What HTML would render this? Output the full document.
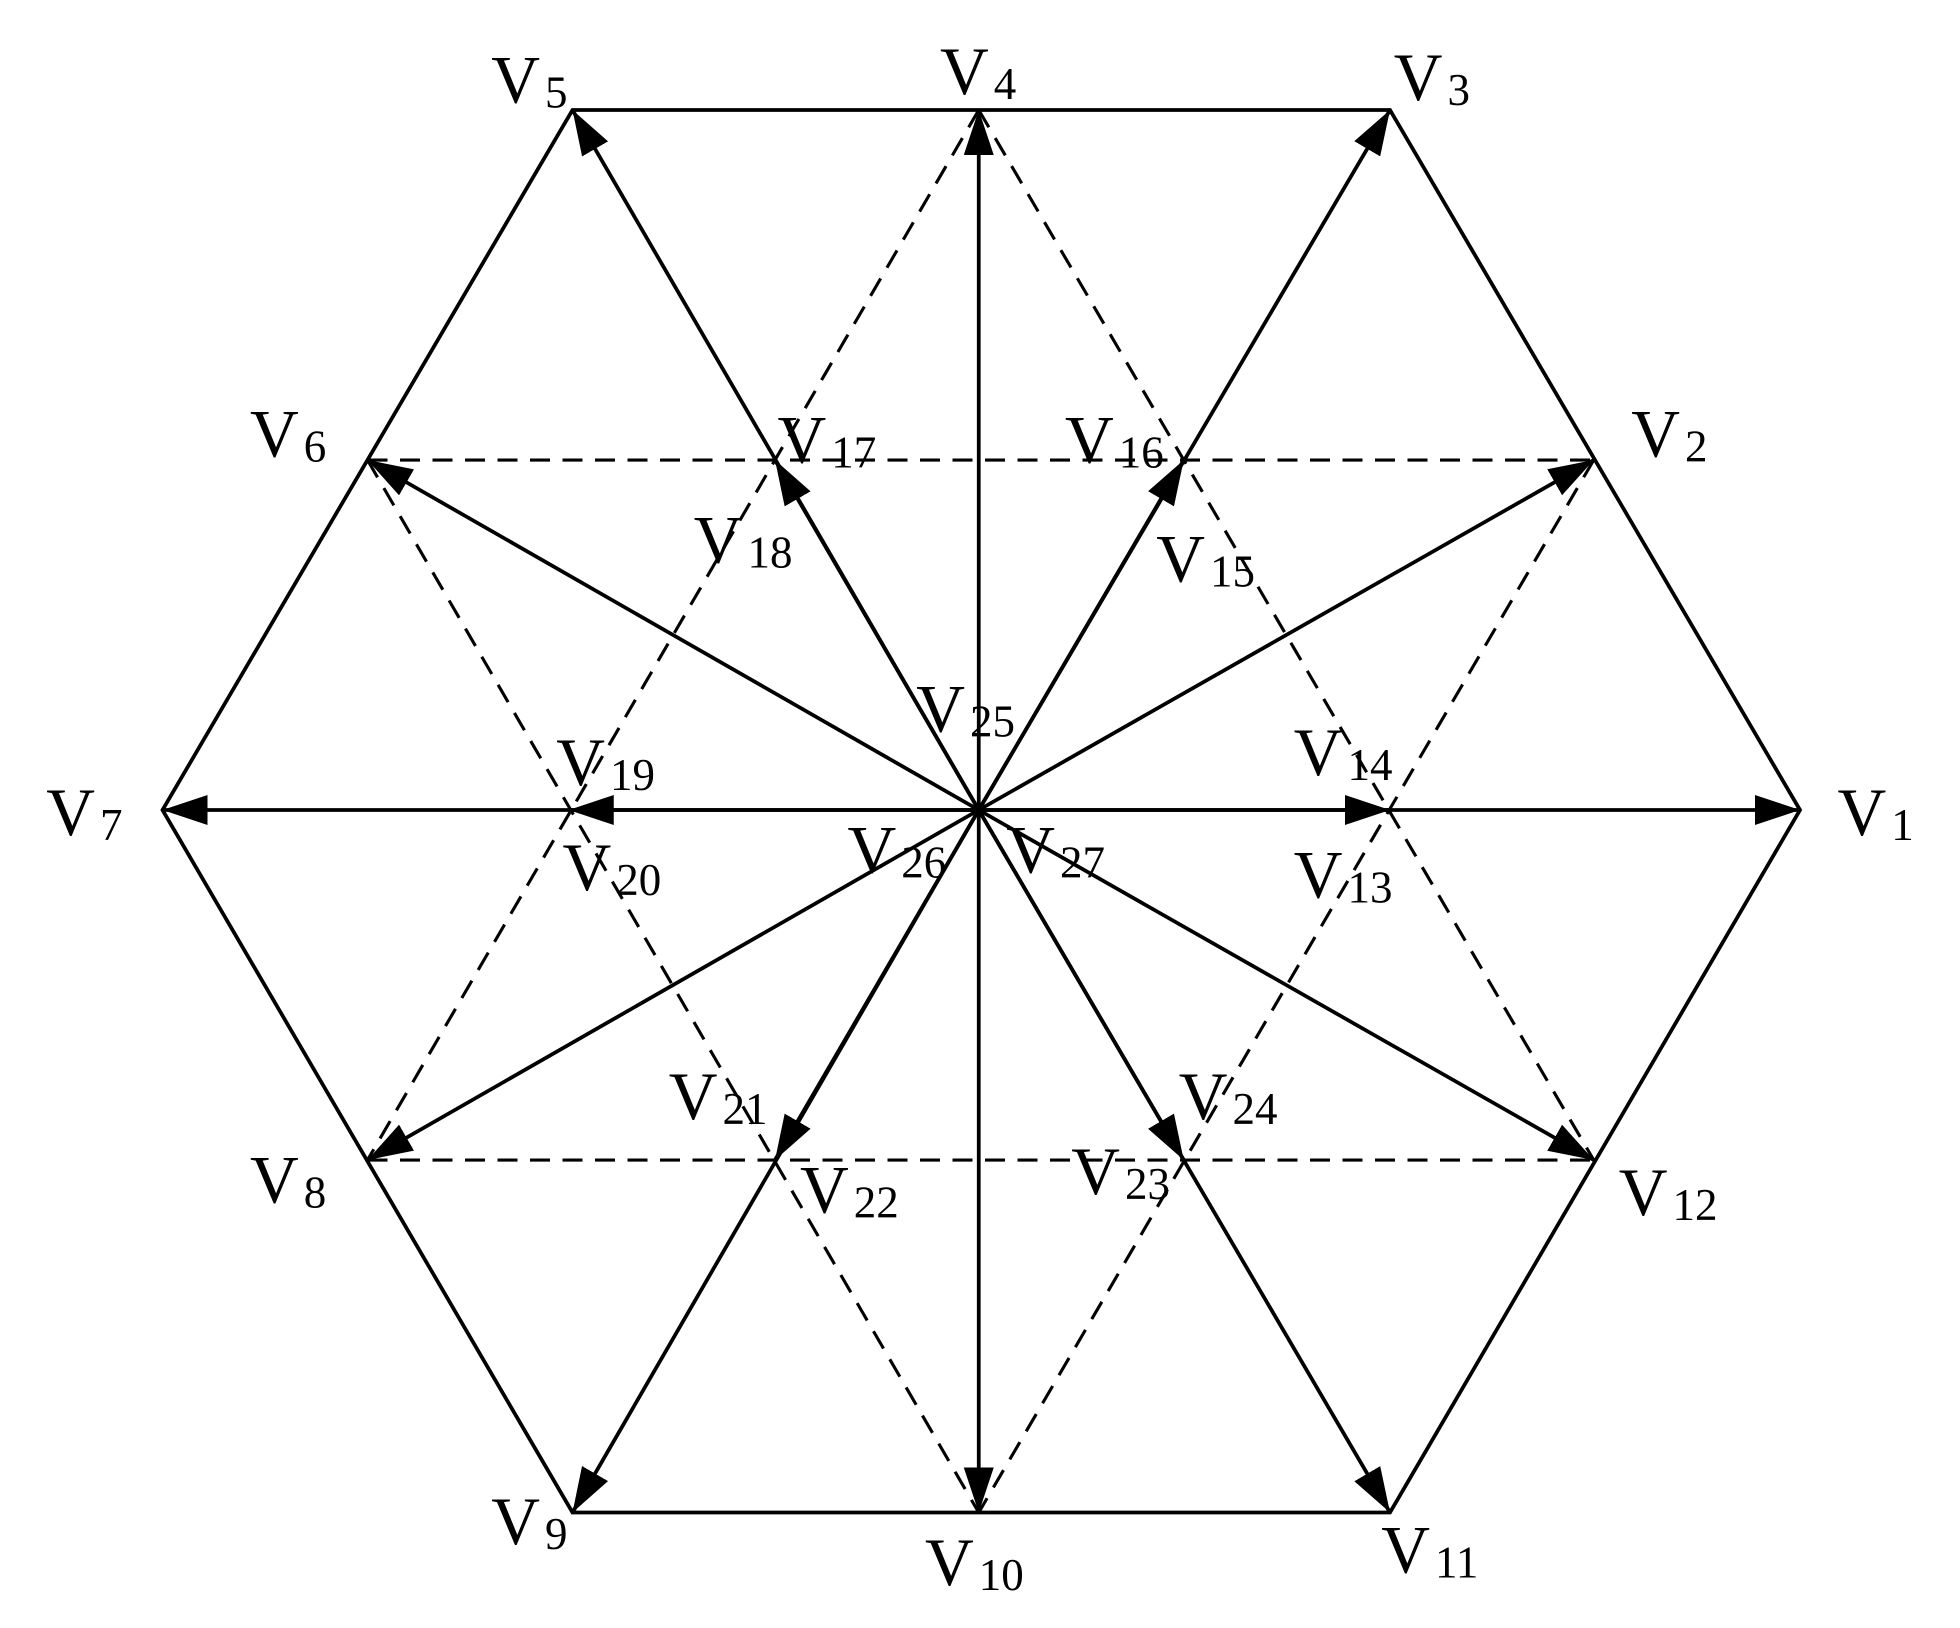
<!DOCTYPE html>
<html><head><meta charset="utf-8"><style>html,body{margin:0;padding:0;background:#fff}svg{display:block}</style></head><body>
<svg width="1960" height="1628" viewBox="0 0 1568 1302.4" xmlns="http://www.w3.org/2000/svg">
<defs>
<marker id="a" markerWidth="40" markerHeight="26" refX="36" refY="12" orient="auto" markerUnits="userSpaceOnUse">
<path d="M0,0 L36,12 L0,24 Z" fill="#000"/>
</marker>
</defs>
<g stroke="#000" stroke-width="3" fill="none">
<polygon points="1440,648 1112,88 458,88 130,648 458,1210 1112,1210"/>
<g stroke-dasharray="16,10" stroke-width="2.5">
<line x1="294" y1="368" x2="1275" y2="368"/>
<line x1="294" y1="928" x2="1275" y2="928"/>
<line x1="783" y1="88" x2="1275" y2="928"/>
<line x1="783" y1="88" x2="294" y2="928"/>
<line x1="1275" y1="368" x2="783" y2="1210"/>
<line x1="294" y1="368" x2="783" y2="1210"/>
</g>
<line x1="783" y1="648" x2="1440" y2="648" marker-end="url(#a)"/>
<line x1="783" y1="648" x2="1275" y2="368" marker-end="url(#a)"/>
<line x1="783" y1="648" x2="783" y2="88" marker-end="url(#a)"/>
<line x1="783" y1="648" x2="294" y2="368" marker-end="url(#a)"/>
<line x1="783" y1="648" x2="130" y2="648" marker-end="url(#a)"/>
<line x1="783" y1="648" x2="294" y2="928" marker-end="url(#a)"/>
<line x1="783" y1="648" x2="783" y2="1210" marker-end="url(#a)"/>
<line x1="783" y1="648" x2="1275" y2="928" marker-end="url(#a)"/>
<line x1="783" y1="648" x2="1112" y2="88" marker-end="url(#a)"/>
<line x1="783" y1="648" x2="458" y2="88" marker-end="url(#a)"/>
<line x1="783" y1="648" x2="458" y2="1210" marker-end="url(#a)"/>
<line x1="783" y1="648" x2="1112" y2="1210" marker-end="url(#a)"/>
<line x1="783" y1="648" x2="1112" y2="648" marker-end="url(#a)"/>
<line x1="783" y1="648" x2="947" y2="368" marker-end="url(#a)"/>
<line x1="783" y1="648" x2="620" y2="368" marker-end="url(#a)"/>
<line x1="783" y1="648" x2="455" y2="648" marker-end="url(#a)"/>
<line x1="783" y1="648" x2="620" y2="928" marker-end="url(#a)"/>
<line x1="783" y1="648" x2="947" y2="928" marker-end="url(#a)"/>
</g>
<g font-family="Liberation Serif, serif" font-size="54" fill="#000">
<text x="393" y="82">V<tspan font-size="36" dx="4" dy="4">5</tspan></text>
<text x="752" y="75">V<tspan font-size="36" dx="4" dy="4">4</tspan></text>
<text x="1115" y="80">V<tspan font-size="36" dx="4" dy="4">3</tspan></text>
<text x="200" y="365">V<tspan font-size="36" dx="4" dy="4">6</tspan></text>
<text x="1305" y="365">V<tspan font-size="36" dx="4" dy="4">2</tspan></text>
<text x="37" y="668">V<tspan font-size="36" dx="4" dy="4">7</tspan></text>
<text x="1470" y="668">V<tspan font-size="36" dx="4" dy="4">1</tspan></text>
<text x="200" y="962">V<tspan font-size="36" dx="4" dy="4">8</tspan></text>
<text x="1295" y="972">V<tspan font-size="36" dx="4" dy="4">12</tspan></text>
<text x="393" y="1235">V<tspan font-size="36" dx="4" dy="4">9</tspan></text>
<text x="740" y="1268">V<tspan font-size="36" dx="4" dy="4">10</tspan></text>
<text x="1105" y="1258">V<tspan font-size="36" dx="4" dy="4">11</tspan></text>
<text x="622" y="370">V<tspan font-size="36" dx="4" dy="4">17</tspan></text>
<text x="852" y="370">V<tspan font-size="36" dx="4" dy="4">16</tspan></text>
<text x="555" y="450">V<tspan font-size="36" dx="4" dy="4">18</tspan></text>
<text x="925" y="465">V<tspan font-size="36" dx="4" dy="4">15</tspan></text>
<text x="733" y="585">V<tspan font-size="36" dx="4" dy="4">25</tspan></text>
<text x="445" y="628">V<tspan font-size="36" dx="4" dy="4">19</tspan></text>
<text x="1035" y="620">V<tspan font-size="36" dx="4" dy="4">14</tspan></text>
<text x="450" y="712">V<tspan font-size="36" dx="4" dy="4">20</tspan></text>
<text x="678" y="698">V<tspan font-size="36" dx="4" dy="4">26</tspan></text>
<text x="805" y="698">V<tspan font-size="36" dx="4" dy="4">27</tspan></text>
<text x="1035" y="718">V<tspan font-size="36" dx="4" dy="4">13</tspan></text>
<text x="535" y="895">V<tspan font-size="36" dx="4" dy="4">21</tspan></text>
<text x="943" y="895">V<tspan font-size="36" dx="4" dy="4">24</tspan></text>
<text x="640" y="970">V<tspan font-size="36" dx="4" dy="4">22</tspan></text>
<text x="857" y="955">V<tspan font-size="36" dx="4" dy="4">23</tspan></text>
</g>
</svg>
</body></html>
